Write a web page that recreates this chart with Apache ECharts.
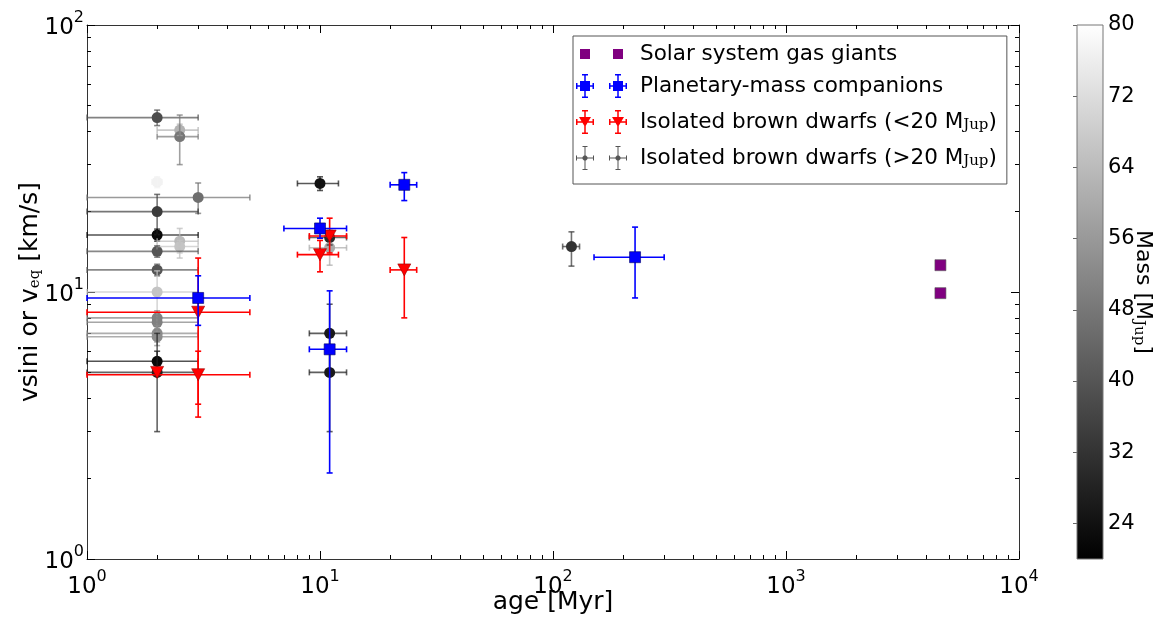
<!DOCTYPE html>
<html>
<head>
<meta charset="utf-8">
<script src="https://cdn.jsdelivr.net/npm/echarts@6/dist/echarts.min.js"></script>
<style>
  html, body { margin: 0; padding: 0; background: #fff; }
  #chart { width: 1156px; height: 618px; }
</style>
</head>
<body>
<div id="chart"></div>
<script>
// ---- Solar system gas giants (Jupiter, Saturn) ----
const giantAge    = [4600, 4600];
const giantVsini  = [12.6, 9.9];

// ---- Planetary-mass companions ----
const pmcAge      = [3, 10, 23, 11, 225];
const pmcAgeLo    = [1, 7, 20, 9, 150];
const pmcAgeHi    = [5, 13, 26, 13, 300];
const pmcVsini    = [9.5, 17.3, 25.2, 6.1, 13.5];
const pmcVsiniLo  = [7.5, 15.9, 22.0, 2.1, 9.5];
const pmcVsiniHi  = [11.5, 18.9, 28.0, 10.1, 17.5];

// ---- Isolated brown dwarfs below 20 M_Jup ----
const lowAge      = [3, 2, 3, 11, 10, 23];
const lowAgeLo    = [1, null, 1, 9, 8, 20];
const lowAgeHi    = [5, null, 5, 13, 12, 26];
const lowVsini    = [8.4, 5.0, 4.9, 16.2, 13.8, 12.1];
const lowVsiniLo  = [3.4, null, 3.8, 14.0, 11.9, 8.0];
const lowVsiniHi  = [13.4, null, 6.0, 18.9, 15.6, 16.0];

// ---- Isolated brown dwarfs above 20 M_Jup (shaded by mass) ----
const bdAge     = [2, 2.5, 2.5, 2, 3, 2, 2, 2.5, 2.5, 2, 2, 2, 2, 2, 2, 2, 2, 2, 10, 11, 11, 11, 11, 120];
const bdAgeLo   = [1, 2, 2, 1.9, 1, 1, 1, 2, 2, 1, 1, 1, 1, 1, 1, 1, 1, 1, 8, 9, 9, 9, 9, 110];
const bdAgeHi   = [3, 3, 3, 2.1, 5, 3, 3, 3, 3, 3, 3, 3, 3, 3, 3, 3, 3, 3, 12, 13, 13, 13, 13, 130];
const bdVsini   = [45, 40.4, 38.2, 25.8, 22.6, 20.0, 16.35, 15.5, 14.8, 14.2, 12.1, 10.0, 8.0, 7.7, 7.0, 6.8, 5.5, 5.0, 25.5, 16.0, 14.65, 7.0, 5.0, 14.8];
const bdVsiniLo = [42, 38.5, 30, 24.6, 19.7, 16.4, 15.5, 13.4, 14.0, 13.5, 11.5, 7.0, 7.5, 7.2, 6.5, 6.3, 5.0, 3.0, 24.0, 15.0, 12.6, 5.0, 3.0, 12.5];
const bdVsiniHi = [48, 42.5, 46, 27.0, 25.6, 23.2, 17.2, 17.3, 15.6, 14.9, 12.7, 12.0, 8.5, 8.2, 7.5, 7.3, 6.0, 7.0, 27.0, 17.0, 16.1, 9.0, 7.0, 16.8];
const bdMass    = [38, 62, 48, 77, 46, 34, 22, 64, 66, 40, 40, 66, 50, 50, 53, 53, 22, 28, 24, 30, 60, 26, 26, 32];

// ---- axes ----
const massRange   = [20, 80];
const massTicks   = [24, 32, 40, 48, 56, 64, 72, 80];
const ageMajor    = [1, 10, 100, 1000, 10000];
const vsiniMajor  = [1, 10, 100];
const ageMinor    = [];
[1, 10, 100, 1000].forEach(d => { for (let k = 2; k <= 9; k++) ageMinor.push(k * d); });
const vsiniMinor  = [];
[1, 10].forEach(d => { for (let k = 2; k <= 9; k++) vsiniMinor.push(k * d); });

const FONT = 'DejaVu Sans';

function rows(age, lo, hi, v, vlo, vhi, extra) {
  return age.map((a, i) => {
    const r = [a, v[i],
      lo ? lo[i] : null, hi ? hi[i] : null,
      vlo ? vlo[i] : null, vhi ? vhi[i] : null];
    if (extra) r.push(extra[i]);
    return r;
  });
}

const bdRows    = rows(bdAge, bdAgeLo, bdAgeHi, bdVsini, bdVsiniLo, bdVsiniHi, bdMass);
const lowRows   = rows(lowAge, lowAgeLo, lowAgeHi, lowVsini, lowVsiniLo, lowVsiniHi);
const pmcRows   = rows(pmcAge, pmcAgeLo, pmcAgeHi, pmcVsini, pmcVsiniLo, pmcVsiniHi);
const giantRows = giantAge.map((a, i) => [a, giantVsini[i]]);

// error bars with caps, drawn through the axes' own scales
function errorBars(fixedColor, lineWidth, opacity) {
  return function (params, api) {
    const x = api.value(0), y = api.value(1);
    const xl = api.value(2), xh = api.value(3), yl = api.value(4), yh = api.value(5);
    const color = fixedColor || api.visual('color');
    const cap = 3;
    const style = { stroke: color, lineWidth: lineWidth, opacity: opacity };
    const seg = (x1, y1, x2, y2) => ({ type: 'line', shape: { x1, y1, x2, y2 }, style });
    const out = [];
    if (xl > 0 && xh > 0) {
      const p0 = api.coord([xl, y]), p1 = api.coord([xh, y]);
      out.push(seg(p0[0], p0[1], p1[0], p1[1]));
      out.push(seg(p0[0], p0[1] - cap, p0[0], p0[1] + cap));
      out.push(seg(p1[0], p1[1] - cap, p1[0], p1[1] + cap));
    }
    if (yl > 0 && yh > 0) {
      const q0 = api.coord([x, yl]), q1 = api.coord([x, yh]);
      out.push(seg(q0[0], q0[1], q1[0], q1[1]));
      out.push(seg(q0[0] - cap, q0[1], q0[0] + cap, q0[1]));
      out.push(seg(q1[0] - cap, q1[1], q1[0] + cap, q1[1]));
    }
    return { type: 'group', children: out };
  };
}

// legend glyphs: two markers, each with a small error cross
function box(x, y, w, h) { return 'M' + x + ',' + y + 'h' + w + 'v' + h + 'h' + (-w) + 'z'; }
function cross(cx, lw, half, capH) {
  return box(cx - half, 12 - lw / 2, 2 * half, lw) +
         box(cx - half, 12 - capH, lw, 2 * capH) + box(cx + half - lw, 12 - capH, lw, 2 * capH) +
         box(cx - lw / 2, 0, lw, 24) +
         box(cx - capH, 0, 2 * capH, lw) + box(cx - capH, 24 - lw, 2 * capH, lw);
}
const sq   = cx => box(cx - 5, 7, 10, 10);
const tri  = cx => 'M' + (cx - 6) + ',7h12L' + cx + ',17z';
const dot  = cx => 'M' + (cx - 1) + ',9.5h2l1.5,1.5v2l-1.5,1.5h-2l-1.5,-1.5v-2z';
const corners = 'M0,0L0,0M51,24L51,24';
const iconGiant = 'path://' + corners + sq(9) + sq(42);
const iconPmc   = 'path://' + cross(9, 1.5, 9, 3) + sq(9) + cross(42, 1.5, 9, 3) + sq(42);
const iconLow   = 'path://' + cross(9, 1.5, 9, 3) + tri(9) + cross(42, 1.5, 9, 3) + tri(42);
const iconBd    = 'path://' + cross(9, 1, 9, 2.5) + dot(9) + cross(42, 1, 9, 2.5) + dot(42);

const NAME_GIANT = 'Solar system gas giants';
const NAME_PMC   = 'Planetary-mass companions';
const NAME_LOW   = 'Isolated brown dwarfs (<20 MJup)';
const NAME_BD    = 'Isolated brown dwarfs (>20 MJup)';

const powLabel = {
  formatter: v => '{b|10}{s|' + Math.round(Math.log10(v)) + '}',
  rich: {
    b: { fontFamily: FONT, fontSize: 23, color: '#000', lineHeight: 30, verticalAlign: 'bottom' },
    s: { fontFamily: FONT, fontSize: 16, color: '#000', lineHeight: 16, verticalAlign: 'top' }
  }
};

const frame = { show: true, lineStyle: { color: '#333', width: 1 } };
const majorTick = (vals) => ({ show: true, inside: true, length: 8, customValues: vals, lineStyle: { color: '#000', width: 1 } });
const minorTick = (vals) => ({ show: true, inside: true, length: 4, customValues: vals, lineStyle: { color: '#000', width: 1 } });

function logX(extra) {
  return Object.assign({
    type: 'log', logBase: 10, min: 1, max: 10000, gridIndex: 0,
    splitLine: { show: false }, axisLabel: { show: false }, axisLine: { show: false }
  }, extra);
}
function logY(extra) {
  return Object.assign({
    type: 'log', logBase: 10, min: 1, max: 100, gridIndex: 0,
    splitLine: { show: false }, axisLabel: { show: false }, axisLine: { show: false }
  }, extra);
}

const subStyle = { fontFamily: 'DejaVu Serif', fontSize: 15, color: '#000', lineHeight: 15, verticalAlign: 'bottom', padding: [12, 0, 0, 0] };
const noEdge = { borderWidth: 0 };

const option = {
  animation: false,
  backgroundColor: '#fff',
  grid: [
    { left: 87, top: 25, width: 932, height: 534, outerBoundsMode: 'none' },
    { left: 1077, top: 25, width: 26, height: 534, outerBoundsMode: 'none' }
  ],
  xAxis: [
    logX({
      position: 'bottom', axisLine: frame, axisTick: majorTick(ageMajor),
      axisLabel: Object.assign({ show: true, margin: 10, customValues: ageMajor }, powLabel),
      name: 'age [Myr]', nameLocation: 'middle', nameGap: 31, nameMoveOverlap: false,
      nameTextStyle: { fontFamily: FONT, fontSize: 25, color: '#000' }
    }),
    logX({ position: 'bottom', axisTick: minorTick(ageMinor) }),
    logX({ position: 'top', axisLine: frame, axisTick: majorTick(ageMajor) }),
    logX({ position: 'top', axisTick: minorTick(ageMinor) }),
    { type: 'value', gridIndex: 1, min: 0, max: 1, show: false }
  ],
  yAxis: [
    logY({
      position: 'left', axisLine: frame, axisTick: majorTick(vsiniMajor),
      axisLabel: Object.assign({ show: true, margin: 3, customValues: vsiniMajor }, powLabel),
      name: 'vsini or v{sub|eq} [km/s]', nameLocation: 'middle', nameRotate: 90, nameGap: 44,
      nameMoveOverlap: false,
      nameTextStyle: { fontFamily: FONT, fontSize: 25, color: '#000', lineHeight: 26,
        rich: { sub: subStyle } }
    }),
    logY({ position: 'left', axisTick: minorTick(vsiniMinor) }),
    logY({ position: 'right', axisLine: frame, axisTick: majorTick(vsiniMajor) }),
    logY({ position: 'right', axisTick: minorTick(vsiniMinor) }),
    {
      type: 'value', gridIndex: 1, min: massRange[0], max: massRange[1], position: 'right',
      splitLine: { show: false }, axisLine: { show: false },
      axisTick: { show: true, inside: true, length: 4, customValues: massTicks, lineStyle: { color: '#666' } },
      axisLabel: { customValues: massTicks, margin: 5, fontFamily: FONT, fontSize: 21, color: '#000' },
      name: 'Mass [M{sub|Jup}]', nameLocation: 'middle', nameRotate: -90, nameGap: 28,
      nameMoveOverlap: false,
      nameTextStyle: { fontFamily: FONT, fontSize: 22, color: '#000', lineHeight: 24,
        rich: { sub: subStyle } }
    }
  ],
  visualMap: {
    type: 'continuous', show: false, min: massRange[0], max: massRange[1],
    dimension: 6, seriesIndex: [0, 1],
    inRange: { color: ['#000000', '#ffffff'] }
  },
  legend: {
    orient: 'vertical', left: 573, top: 36,
    padding: [6, 10, 14, 3], itemGap: 8, itemWidth: 51, itemHeight: 24,
    backgroundColor: '#fff', borderColor: '#555', borderWidth: 1,
    selectedMode: false,
    formatter: name => name.replace('MJup', 'M{sub|Jup}'),
    textStyle: {
      fontFamily: FONT, fontSize: 21.5, color: '#000', padding: [0, 0, 0, 8],
      rich: { sub: subStyle }
    },
    data: [
      { name: NAME_GIANT, icon: iconGiant, itemStyle: Object.assign({ color: '#800080' }, noEdge) },
      { name: NAME_PMC,   icon: iconPmc,   itemStyle: Object.assign({ color: '#0000ff' }, noEdge) },
      { name: NAME_LOW,   icon: iconLow,   itemStyle: Object.assign({ color: '#ff0000' }, noEdge) },
      { name: NAME_BD,    icon: iconBd,    itemStyle: Object.assign({ color: '#555555' }, noEdge) }
    ]
  },
  series: [
    {
      name: NAME_BD, type: 'custom', xAxisIndex: 0, yAxisIndex: 0, z: 3,
      renderItem: errorBars(null, 1.6, 0.7), encode: { x: 0, y: 1 }, data: bdRows
    },
    {
      name: NAME_BD, type: 'scatter', xAxisIndex: 0, yAxisIndex: 0, z: 2,
      symbol: 'circle', symbolSize: 11, encode: { x: 0, y: 1 },
      itemStyle: { opacity: 1 }, data: bdRows
    },
    {
      name: NAME_LOW, type: 'custom', xAxisIndex: 0, yAxisIndex: 0, z: 4,
      renderItem: errorBars('#ff0000', 1.6, 1), encode: { x: 0, y: 1 }, data: lowRows
    },
    {
      name: NAME_LOW, type: 'scatter', xAxisIndex: 0, yAxisIndex: 0, z: 5,
      symbol: 'triangle', symbolRotate: 180, symbolSize: [13, 12], encode: { x: 0, y: 1 },
      itemStyle: { color: '#ff0000', borderColor: '#990000', borderWidth: 0.6, opacity: 1 }, data: lowRows
    },
    {
      name: NAME_PMC, type: 'custom', xAxisIndex: 0, yAxisIndex: 0, z: 6,
      renderItem: errorBars('#0000ff', 1.6, 1), encode: { x: 0, y: 1 }, data: pmcRows
    },
    {
      name: NAME_PMC, type: 'scatter', xAxisIndex: 0, yAxisIndex: 0, z: 7,
      symbol: 'rect', symbolSize: 11, encode: { x: 0, y: 1 },
      itemStyle: { color: '#0000ff', borderColor: '#000066', borderWidth: 0.6, opacity: 1 }, data: pmcRows
    },
    {
      name: NAME_GIANT, type: 'scatter', xAxisIndex: 0, yAxisIndex: 0, z: 8,
      symbol: 'rect', symbolSize: 11,
      itemStyle: { color: '#800080', borderColor: '#555', borderWidth: 0.6, opacity: 1 }, data: giantRows
    },
    {
      // mass colour bar
      type: 'custom', xAxisIndex: 4, yAxisIndex: 4, z: 1, silent: true,
      data: [[0, massRange[0], 1, massRange[1]]],
      renderItem: function (params, api) {
        const a = api.coord([api.value(0), api.value(3)]);
        const b = api.coord([api.value(2), api.value(1)]);
        return {
          type: 'rect',
          shape: { x: a[0], y: a[1], width: b[0] - a[0], height: b[1] - a[1] },
          style: {
            fill: new echarts.graphic.LinearGradient(0, 0, 0, 1, [
              { offset: 0, color: '#ffffff' }, { offset: 1, color: '#000000' }
            ]),
            stroke: '#777', lineWidth: 1
          }
        };
      }
    }
  ]
};

const chart = echarts.init(document.getElementById('chart'), null, { renderer: 'canvas' });
chart.setOption(option);
</script>
</body>
</html>
